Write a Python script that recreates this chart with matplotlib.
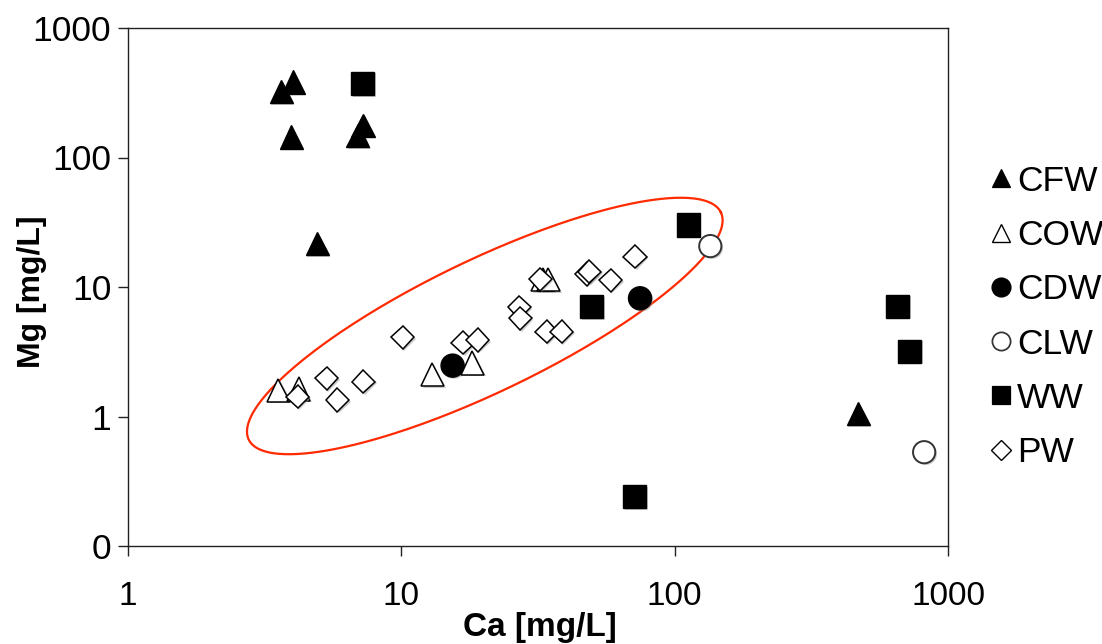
import numpy as np
import matplotlib
matplotlib.use("Agg")
import matplotlib.pyplot as plt
import matplotlib.patheffects as pe
from matplotlib.lines import Line2D
from matplotlib.ticker import FixedLocator, FixedFormatter, NullLocator

plt.rcParams['font.family'] = ['Liberation Sans', 'DejaVu Sans']

# Ca and Mg concentrations [mg/L] for each water type
cfw_ca = [3.63, 4.02, 3.95, 7.24, 6.94, 4.92, 469]
cfw_mg = [321, 383, 144, 178, 147, 21.5, 1.05]

cow_ca = [3.55, 4.21, 13.0, 18.2, 32.9, 34.5]
cow_mg = [1.60, 1.63, 2.10, 2.59, 11.4, 11.4]

cdw_ca = [15.4, 74.7]
cdw_mg = [2.47, 8.18]

clw_ca = [135, 818]
clw_mg = [20.7, 0.53]

ww_ca = [7.21, 112, 49.7, 655, 722, 71.3]
ww_mg = [374, 30.1, 7.04, 7.1, 3.2, 0.24]

pw_ca = [4.18, 5.33, 5.83, 7.26, 10.1, 16.8, 19.0, 27.0, 27.2, 34.0, 38.6,
         32.2, 47.7, 48.7, 58.4, 71.6]
pw_mg = [1.42, 1.97, 1.34, 1.86, 4.09, 3.72, 3.90, 6.97, 5.73, 4.52, 4.52,
         11.5, 12.6, 13.1, 11.3, 17.1]

tick_vals = [0.1, 1, 10, 100, 1000]
ytick_labels = ['0', '1', '10', '100', '1000']
xtick_vals = [1, 10, 100, 1000]
xtick_labels = ['1', '10', '100', '1000']

fig = plt.figure(figsize=(11.02, 6.44), dpi=100)
ax = fig.add_axes([128 / 1102, 1 - 546 / 644, 820 / 1102, 518 / 644])

shadow = [pe.SimplePatchShadow(offset=(1.2, -1.2), shadow_rgbFace='0.55', alpha=0.45),
          pe.Normal()]

series = [
    ('CFW', cfw_ca, cfw_mg, '^', 'black', 'black', 16.6, 1.0, 3),
    ('COW', cow_ca, cow_mg, '^', 'white', 'black', 16.6, 1.1, 5),
    ('CDW', cdw_ca, cdw_mg, 'o', 'black', 'black', 16.6, 1.0, 4),
    ('CLW', clw_ca, clw_mg, 'o', 'white', '#333333', 16.0, 1.4, 4),
    ('WW', ww_ca, ww_mg, 's', 'black', 'black', 16.6, 1.0, 3),
    ('PW', pw_ca, pw_mg, 'D', 'white', 'black', 11.8, 1.1, 6),
]

handles = []
for name, xs, ys, mk, fc, ec, ms, mew, z in series:
    ax.plot(xs, ys, linestyle='none', marker=mk, markersize=ms,
            markerfacecolor=fc, markeredgecolor=ec, markeredgewidth=mew,
            zorder=z, path_effects=shadow, clip_on=False)
    handles.append(Line2D([], [], linestyle='none', marker=mk,
                          markersize=ms * 0.82, markerfacecolor=fc,
                          markeredgecolor=ec, markeredgewidth=mew * 0.9))

ax.set_xscale('log')
ax.set_yscale('log')
ax.set_xlim(1, 1000)
ax.set_ylim(0.1, 1000)

ax.xaxis.set_major_locator(FixedLocator(xtick_vals))
ax.xaxis.set_major_formatter(FixedFormatter(xtick_labels))
ax.yaxis.set_major_locator(FixedLocator(tick_vals))
ax.yaxis.set_major_formatter(FixedFormatter(ytick_labels))
ax.xaxis.set_minor_locator(NullLocator())
ax.yaxis.set_minor_locator(NullLocator())

ax.tick_params(axis='both', direction='out', length=7, width=1.0,
               color='#222222', labelcolor='black')
ax.tick_params(axis='x', pad=18, labelsize=24)
ax.tick_params(axis='y', pad=5, labelsize=25.5)
for s in ax.spines.values():
    s.set_linewidth(1.0)
    s.set_color('#222222')

ax.set_xlabel('Ca [mg/L]', fontsize=24, fontweight='bold')
ax.set_ylabel('Mg [mg/L]', fontsize=23, fontweight='bold')
ax.xaxis.set_label_coords(0.502, -0.127)
ax.yaxis.set_label_coords(-0.099, 0.49)

# tilted ellipse around the mixed-water cluster, defined in screen pixels
ell_cx, ell_cy = 20.2, 5.0
ell_a, ell_b, ell_ang = 262, 66, np.deg2rad(25.7)
x_dec = ax.bbox.width / 3
y_dec = ax.bbox.height / 4
t = np.linspace(0, 2 * np.pi, 400)
dx = ell_a * np.cos(ell_ang) * np.cos(t) - ell_b * np.sin(ell_ang) * np.sin(t)
dy = ell_a * np.sin(ell_ang) * np.cos(t) + ell_b * np.cos(ell_ang) * np.sin(t)
ax.plot(ell_cx * 10 ** (dx / x_dec), ell_cy * 10 ** (dy / y_dec),
        color='#ff2a00', linewidth=1.6, zorder=2)

ax.legend(handles, [s[0] for s in series], loc='center left',
          bbox_to_anchor=(988 / 1102, 1 - 317 / 644),
          bbox_transform=fig.transFigure, frameon=False, fontsize=25.5,
          borderpad=0, handlelength=0.72, handletextpad=0.1,
          labelspacing=0.6, borderaxespad=0)

fig.savefig('out.png', dpi=100, facecolor='white')
